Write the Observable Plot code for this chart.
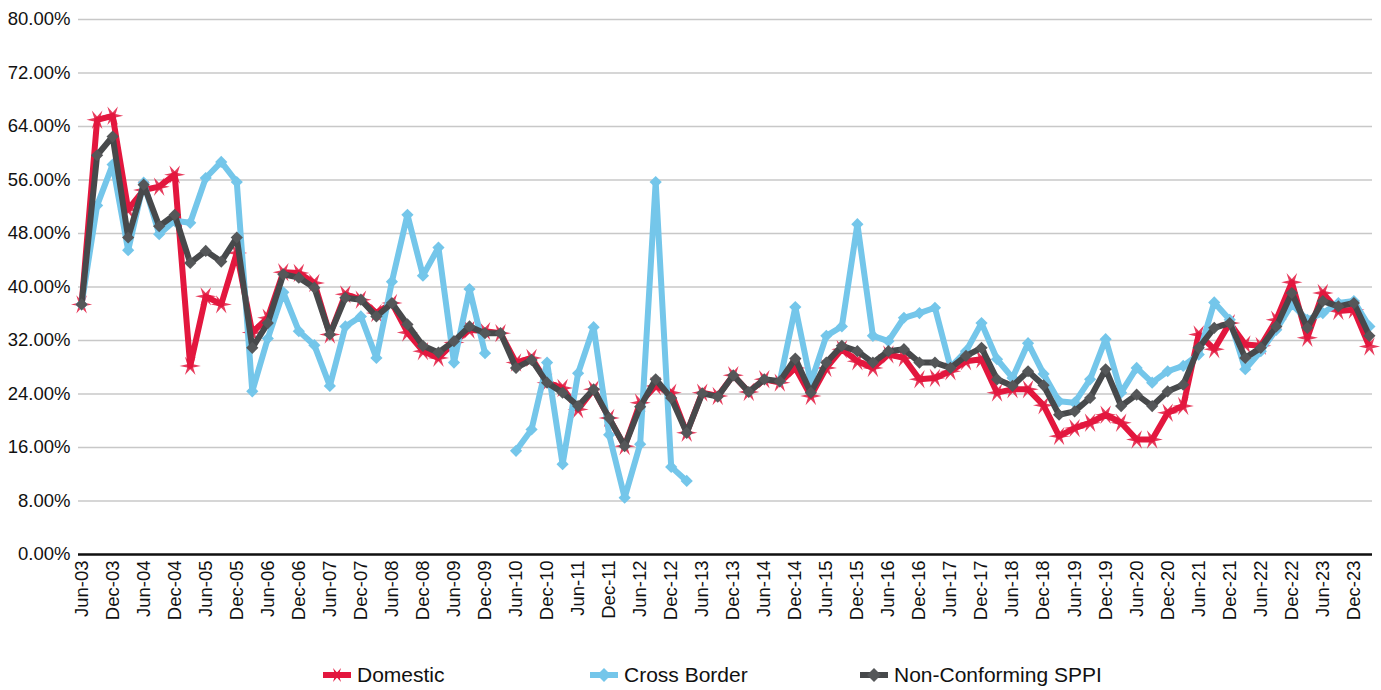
<!DOCTYPE html>
<html>
<head>
<meta charset="utf-8">
<script src="https://cdn.jsdelivr.net/npm/d3@7"></script>
<script src="https://cdn.jsdelivr.net/npm/@observablehq/plot@0.6"></script>
<style>
  html, body { margin: 0; padding: 0; background: #fff; }
  body { width: 1381px; height: 690px; overflow: hidden; font-family: "Liberation Sans", Arial, sans-serif; }
  #legend { position: relative; width: 1381px; height: 40px; margin-top: 5px; }
  .item { position: absolute; top: 0; height: 40px; display: flex; align-items: center; font-size: 21px; color: #111; }
  .item svg { margin-right: 6px; }
</style>
</head>
<body>
<div id="chart"></div>
<div id="legend"></div>
<script>
const quarters = [
  "Jun-03","Sep-03","Dec-03",
  "Mar-04","Jun-04","Sep-04","Dec-04",
  "Mar-05","Jun-05","Sep-05","Dec-05",
  "Mar-06","Jun-06","Sep-06","Dec-06",
  "Mar-07","Jun-07","Sep-07","Dec-07",
  "Mar-08","Jun-08","Sep-08","Dec-08",
  "Mar-09","Jun-09","Sep-09","Dec-09",
  "Mar-10","Jun-10","Sep-10","Dec-10",
  "Mar-11","Jun-11","Sep-11","Dec-11",
  "Mar-12","Jun-12","Sep-12","Dec-12",
  "Mar-13","Jun-13","Sep-13","Dec-13",
  "Mar-14","Jun-14","Sep-14","Dec-14",
  "Mar-15","Jun-15","Sep-15","Dec-15",
  "Mar-16","Jun-16","Sep-16","Dec-16",
  "Mar-17","Jun-17","Sep-17","Dec-17",
  "Mar-18","Jun-18","Sep-18","Dec-18",
  "Mar-19","Jun-19","Sep-19","Dec-19",
  "Mar-20","Jun-20","Sep-20","Dec-20",
  "Mar-21","Jun-21","Sep-21","Dec-21",
  "Mar-22","Jun-22","Sep-22","Dec-22",
  "Mar-23","Jun-23","Sep-23","Dec-23",
  "Mar-24"
];

const tickLabels = [
  "Jun-03","Dec-03","Jun-04","Dec-04","Jun-05","Dec-05","Jun-06","Dec-06",
  "Jun-07","Dec-07","Jun-08","Dec-08","Jun-09","Dec-09","Jun-10","Dec-10",
  "Jun-11","Dec-11","Jun-12","Dec-12","Jun-13","Dec-13","Jun-14","Dec-14",
  "Jun-15","Dec-15","Jun-16","Dec-16","Jun-17","Dec-17","Jun-18","Dec-18",
  "Jun-19","Dec-19","Jun-20","Dec-20","Jun-21","Dec-21","Jun-22","Dec-22",
  "Jun-23","Dec-23"
];

const yTicks = [0, 8, 16, 24, 32, 40, 48, 56, 64, 72, 80];

// values in percent
const domestic = [
  37.4, 65.0, 65.6,
  51.6, 54.5, 55.0, 56.8,
  28.2, 38.6, 37.4, 45.1,
  33.2, 35.4, 42.2, 42.1,
  40.6, 32.9, 38.9, 38.1,
  36.1, 37.6, 33.2, 30.4,
  29.4, 31.7, 33.6, 33.4,
  33.1, 28.7, 29.4, 25.7,
  24.9, 21.7, 24.7, 20.4,
  16.2, 22.7, 25.2, 24.2,
  18.2, 24.2, 23.7, 26.8,
  24.3, 26.2, 25.7, 27.9,
  23.7, 27.9, 30.7, 28.9,
  27.9, 29.9, 29.4, 26.2,
  26.4, 27.4, 28.9, 29.2,
  24.2, 24.7, 24.7, 22.3,
  17.7, 18.9, 19.7, 20.9,
  19.7, 17.2, 17.2, 21.2,
  22.2, 32.9, 30.7, 34.6,
  31.4, 31.2, 35.1, 40.7,
  32.4, 39.1, 36.4, 36.6,
  31.1
];

const crossBorder = [
  37.4, 52.2, 58.3,
  45.5, 55.6, 47.9, 49.9,
  49.6, 56.3, 58.7, 55.7,
  24.4, 32.3, 39.2, 33.4,
  31.3, 25.2, 34.1, 35.6,
  29.4, 40.8, 50.8, 41.7,
  45.9, 28.7, 39.7, 30.1,
  null, 15.5, 18.7, 28.7,
  13.5, 27.1, 34.0, 17.9,
  8.5, 16.5, 55.7, 13.1,
  11.0, null, null, null,
  null, null, 25.9, 37.0,
  25.7, 32.7, 34.1, 49.4,
  32.7, 31.9, 35.4, 36.1,
  36.9, 28.0, 30.4, 34.6,
  29.2, 26.4, 31.6, 27.0,
  22.9, 22.7, 26.2, 32.2,
  24.2, 27.9, 25.7, 27.4,
  28.2, 29.9, 37.7, 35.1,
  27.7, 30.4, 33.6, 37.4,
  35.1, 36.1, 37.6, 37.9,
  34.1
];

const nonConforming = [
  37.4, 59.7, 62.5,
  47.4, 55.3, 49.1, 50.8,
  43.6, 45.4, 43.8, 47.4,
  30.9, 34.6, 41.9, 41.4,
  39.9, 32.9, 38.4, 38.1,
  35.6, 37.6, 34.4, 31.2,
  30.2, 31.9, 34.1, 33.1,
  33.1, 27.9, 29.1, 25.7,
  24.2, 22.2, 24.7, 20.4,
  16.2, 22.1, 26.2, 23.4,
  18.2, 24.1, 23.6, 26.8,
  24.3, 26.2, 25.9, 29.3,
  24.2, 28.7, 31.2, 30.4,
  28.7, 30.4, 30.7, 28.7,
  28.7, 27.9, 29.7, 30.9,
  26.2, 25.2, 27.4, 25.3,
  20.9, 21.4, 23.4, 27.7,
  22.2, 23.9, 22.2, 24.4,
  25.4, 30.9, 33.9, 34.6,
  29.4, 30.9, 34.1, 39.1,
  33.9, 37.9, 37.1, 37.6,
  32.7
];

const seriesNames = ["Domestic", "Cross Border", "Non-Conforming SPPI"];
const seriesColors = ["#e3173e", "#74c6ea", "#47494b"];

// six-pointed spiky star marker (Excel-like)
const spikyStar = {
  draw(context, size) {
    const R = Math.sqrt(size) * 1.0;
    const r = R * 0.32;
    for (let k = 0; k < 12; k++) {
      const a = k * Math.PI / 6;
      const rad = k % 2 === 0 ? R : r;
      const x = rad * Math.cos(a), y = rad * Math.sin(a);
      if (k === 0) context.moveTo(x, y); else context.lineTo(x, y);
    }
    context.closePath();
  }
};

const toRows = (arr) => quarters.map((q, i) => ({q, v: arr[i]}));
const dRows = toRows(domestic);
const cRows = toRows(crossBorder);
const nRows = toRows(nonConforming);

const lineOpts = (color) => ({x: "q", y: "v", stroke: color, strokeWidth: 6, strokeLinejoin: "round", strokeLinecap: "butt"});

const chart = Plot.plot({
  width: 1381,
  height: 650,
  marginTop: 19,
  marginBottom: 96,
  marginLeft: 78,
  marginRight: 9,
  style: {fontFamily: '"Liberation Sans", Arial, sans-serif', fontSize: "18.5px", color: "#111", background: "#fff"},
  x: {type: "point", domain: quarters, padding: 0.2},
  y: {domain: [0, 80]},
  marks: [
    Plot.gridY(yTicks, {stroke: "#c8c8c8", strokeOpacity: 1, strokeWidth: 1.5}),
    Plot.axisY(yTicks, {tickSize: 0, tickPadding: 8, tickFormat: d => d.toFixed(2) + "%", label: null}),
    Plot.axisX(tickLabels, {tickSize: 0, tickPadding: 6, tickRotate: -90, label: null}),
    Plot.ruleY([0], {stroke: "#111", strokeWidth: 2.5}),
    Plot.line(dRows, lineOpts(seriesColors[0])),
    Plot.dot(dRows, {x: "q", y: "v", symbol: spikyStar, r: 6, fill: seriesColors[0], stroke: "none", fillOpacity: 0.85}),
    Plot.line(cRows, lineOpts(seriesColors[1])),
    Plot.dot(cRows, {x: "q", y: "v", symbol: "diamond2", r: 5.5, fill: seriesColors[1], stroke: "none"}),
    Plot.line(nRows, lineOpts(seriesColors[2])),
    Plot.dot(nRows, {x: "q", y: "v", symbol: "diamond2", r: 5.5, fill: "#555759", stroke: "none"})
  ]
});
document.getElementById("chart").appendChild(chart);

// legend
const legend = document.getElementById("legend");
const legendLeft = [323, 590, 860];
const markerPath = (k) => {
  if (k === 0) {
    const pts = [];
    for (let j = 0; j < 12; j++) {
      const a = j * Math.PI / 6;
      const rad = j % 2 === 0 ? 8 : 2.6;
      pts.push((14 + rad * Math.cos(a)).toFixed(2) + "," + (12 + rad * Math.sin(a)).toFixed(2));
    }
    return `<polygon points="${pts.join(" ")}" fill="${seriesColors[0]}"/>`;
  }
  const fill = k === 2 ? "#555759" : seriesColors[k];
  return `<polygon points="14,5 21,12 14,19 7,12" fill="${fill}"/>`;
};
seriesNames.forEach((name, k) => {
  const div = document.createElement("div");
  div.className = "item";
  div.style.left = legendLeft[k] + "px";
  div.innerHTML = `<svg width="28" height="24" viewBox="0 0 28 24"><line x1="0" y1="12" x2="28" y2="12" stroke="${seriesColors[k]}" stroke-width="6"/>${markerPath(k)}</svg><span>${name}</span>`;
  legend.appendChild(div);
});
</script>
</body>
</html>
